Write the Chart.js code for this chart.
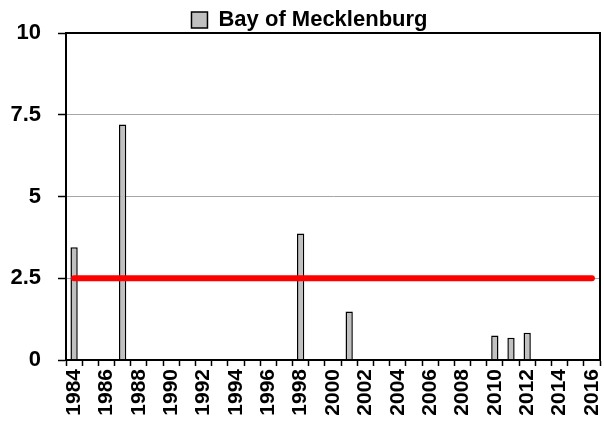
<!DOCTYPE html>
<html>
<head>
<meta charset="utf-8">
<script src="https://cdn.jsdelivr.net/npm/chart.js@4/dist/chart.umd.min.js"></script>
<style>
    body { margin: 0; background: #fff; }
    canvas { display: block; }
</style>
</head>
<body>
<canvas id="barChart" width="604" height="425"></canvas>
<script>
var years = ['1984', '1985', '1986', '1987', '1988', '1989', '1990', '1991', '1992', '1993', '1994',
    '1995', '1996', '1997', '1998', '1999', '2000', '2001', '2002', '2003', '2004', '2005',
    '2006', '2007', '2008', '2009', '2010', '2011', '2012', '2013', '2014', '2015', '2016'];

// bar heights per year, null = no bar
var mecklenburg = [3.45, null, null, 7.2, null, null, null, null, null, null, null,
    null, null, null, 3.87, null, null, 1.48, null, null, null, null,
    null, null, null, null, 0.75, 0.68, 0.83, null, null, null, null];

var thresholdValue = 2.5;
var thresholdLine = [{ x: '1984', y: thresholdValue }, { x: '2016', y: thresholdValue }];

var yTicks = [0, 2.5, 5, 7.5, 10];

var fontName = '"Liberation Sans", Arial, sans-serif';

// frame round the plot (top and right edge too)
var plotBorder = {
    id: 'plotBorder',
    afterLayout: function (chart) {
        // legend sits a bit right of the canvas centre
        chart.legend.left = 15;
    },
    afterDatasetsDraw: function (chart) {
        var a = chart.chartArea;
        var ctx = chart.ctx;
        ctx.save();
        ctx.strokeStyle = '#000';
        ctx.lineWidth = 2;
        ctx.strokeRect(a.left, a.top, a.right - a.left, a.bottom - a.top);
        ctx.restore();
    }
};

var ctx = document.getElementById('barChart').getContext('2d');
var myChart = new Chart(ctx, {
    type: 'bar',
    data: {
        labels: years,
        datasets: [{
            type: 'line',
            label: 'threshold',
            data: thresholdLine,
            borderColor: '#ff0000',
            borderWidth: 6,
            borderCapStyle: 'round',
            pointRadius: 0,
            fill: false
        }, {
            label: 'Bay of Mecklenburg',
            data: mecklenburg,
            backgroundColor: '#c0c0c0',
            borderColor: '#000',
            borderWidth: 1.5,
            categoryPercentage: 1,
            barPercentage: 0.45
        }]
    },
    options: {
        responsive: false,
        animation: false,
        devicePixelRatio: 1,
        layout: { padding: { left: 0, right: 0, top: 9, bottom: 0 } },
        plugins: {
            tooltip: { enabled: false },
            legend: {
                position: 'top',
                maxHeight: 24,
                labels: {
                    padding: 0,
                    boxWidth: 16,
                    boxHeight: 16,
                    color: '#000',
                    font: { family: fontName, size: 22, weight: 'bold' },
                    filter: function (item) { return item.text == 'Bay of Mecklenburg'; }
                }
            }
        },
        scales: {
            x: {
                offset: true,
                afterFit: function (scale) {
                    scale.height = 65;
                    scale.paddingLeft = 0;
                    scale.paddingRight = 4;
                },
                grid: {
                    offset: true,
                    drawOnChartArea: false,
                    tickLength: 6,
                    tickColor: '#000',
                    tickWidth: 1.5
                },
                border: { color: '#000', width: 2 },
                ticks: {
                    autoSkip: false,
                    maxRotation: 90,
                    minRotation: 90,
                    padding: 3,
                    color: '#000',
                    font: { family: fontName, size: 21, weight: 'bold' },
                    callback: function (value, index) {
                        return index % 2 == 0 ? years[index] : '';
                    }
                }
            },
            y: {
                min: yTicks[0],
                max: yTicks[yTicks.length - 1],
                afterBuildTicks: function (scale) {
                    scale.ticks = yTicks.map(function (v) { return { value: v }; });
                },
                afterFit: function (scale) {
                    scale.width = 66;
                },
                grid: {
                    color: '#a6a6a6',
                    lineWidth: 1,
                    tickLength: 8,
                    tickColor: '#000',
                    tickWidth: 1.5
                },
                border: { color: '#000', width: 2 },
                ticks: {
                    padding: 17,
                    color: '#000',
                    font: { family: fontName, size: 22, weight: 'bold' }
                }
            }
        }
    },
    plugins: [plotBorder]
});
</script>
</body>
</html>
